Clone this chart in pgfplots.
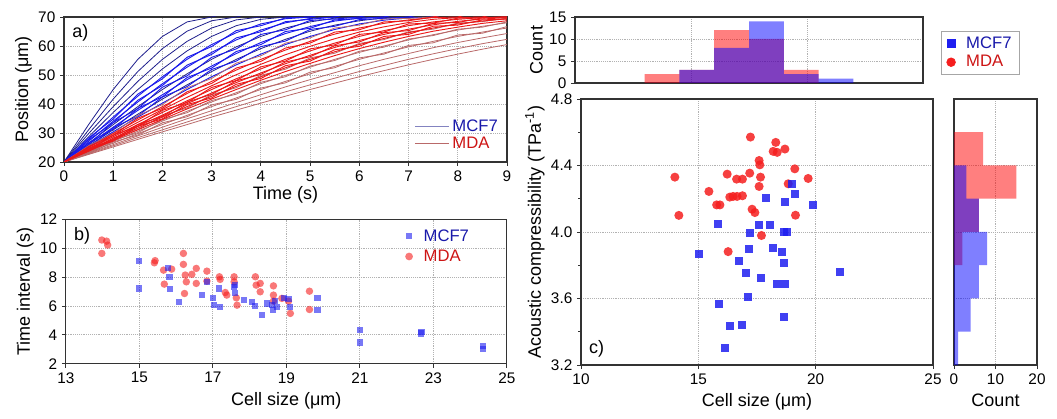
\documentclass[border=0pt]{standalone}
\usepackage{fontspec}
\setmainfont{Liberation Sans}
\usepackage{pgfplots}
\usepackage{pgfplotstable}
\pgfplotsset{compat=1.18}

\definecolor{mcfline}{RGB}{25,25,235}
\definecolor{mcfdark}{RGB}{30,30,140}
\definecolor{mdaline}{RGB}{235,25,25}
\definecolor{mdabrown}{RGB}{185,105,105}
\definecolor{mcftext}{RGB}{25,25,170}
\definecolor{mdatext}{RGB}{205,20,20}
\definecolor{mcfmark}{RGB}{30,30,240}
\definecolor{mdamark}{RGB}{245,30,30}

\pgfplotsset{
  panel/.style={
    scale only axis,
    axis line style={black!80, line width=0.9pt},
    tick align=outside, tick pos=left,
    major tick length=3pt,
    tick style={black!80, line width=0.7pt},
    grid=major,
    grid style={gray!60, densely dotted, line width=0.6pt},
    /pgf/number format/assume math mode=true,
    ticklabel style={font=\fontsize{11.5}{13}\selectfont},
    label style={font=\fontsize{13.5}{15}\selectfont},
  },
}

% position traces, MCF7 (t in s, position in um)
\pgfplotstableread{
t   b1   b2   b3   b4   b5   b6   b7   b8   b9   b10  b11  b12  b13  b14  b15
0   20   20   20   20   20   20   20   20   20   20   20   20   20   20   20
0.5 32.9 31.1 29.8 28.7 27.8 28.3 27.1 27.6 26.5 26.0 26.0 26.6 25.6 25.1 25.2
1   45.0 41.7 39.1 37.1 35.5 34.8 34.1 33.5 32.9 33.6 32.0 31.3 31.1 31.8 30.4
1.5 55.4 51.2 47.8 45.0 42.7 43.4 40.7 41.3 39.1 38.4 37.8 38.5 36.5 35.9 35.5
2   63.3 59.1 55.4 52.1 49.4 48.7 47.0 46.4 45.0 45.8 43.2 42.5 41.7 42.4 40.3
2.5 68.3 65.1 61.6 58.3 55.4 56.1 52.7 53.4 50.4 49.7 48.4 49.1 46.6 46.0 45.0
3   70   68.7 66.2 63.3 60.5 59.8 57.8 57.1 55.4 56.1 53.1 52.4 51.2 51.9 49.4
3.5 72   70   69.0 67.0 64.6 65.3 62.1 62.8 59.7 59.0 57.4 58.1 55.4 54.8 53.5
4   72   72   70   69.2 67.6 67.0 65.5 64.9 63.3 64.0 61.2 60.5 59.1 59.8 57.2
4.5 72   72   72   70   69.4 69.7 68.0 68.4 66.2 65.6 64.3 65.0 62.3 61.7 60.5
5   72   72   72   72   70   70   69.5 69.2 68.3 68.8 66.7 66.1 65.1 65.7 63.3
5.5 72   72   72   72   72   72   70   70   69.6 69.3 68.6 69.0 67.2 66.8 65.7
6   72   72   72   72   72   72   72   72   70   70   69.6 69.5 68.7 69.1 67.6
6.5 72   72   72   72   72   72   72   72   72   72   70   70   69.7 69.5 68.9
7   72   72   72   72   72   72   72   72   72   72   72   72   70   70   69.7
7.5 72   72   72   72   72   72   72   72   72   72   72   72   72   72   70
8   72   72   72   72   72   72   72   72   72   72   72   72   72   72   72
8.5 72   72   72   72   72   72   72   72   72   72   72   72   72   72   72
9   72   72   72   72   72   72   72   72   72   72   72   72   72   72   72
}\tblmcf

% position traces, MDA
\pgfplotstableread{
t   r1   r2   r3   r4   r5   r6   r7   r8   r9   r10  k1   k2   k3   k4   k5   k6   k7   k8   k9
0   20   20   20   20   20   20   20   20   20   20   20   20   20   20   20   20   20   20   20
0.5 24.9 24.6 24.4 24.0 24.1 24.5 23.9 24.3 23.7 25.3 25.6 23.6 23.2 23.3 22.9 23.0 22.8 22.6 23.5
1   29.8 29.2 28.7 29.3 28.2 27.7 27.8 27.2 27.5 29.2 29.9 27.1 27.5 26.5 26.9 26.0 25.6 25.2 28.2
1.5 34.5 33.7 32.9 32.3 32.3 32.9 31.7 32.3 31.1 35.1 36.0 30.6 30.1 29.8 29.3 29.0 28.4 27.8 31.2
2   39.1 38.1 37.1 37.8 36.2 35.7 35.5 34.9 34.7 38.5 39.8 34.1 34.6 32.9 33.5 32.0 31.1 30.4 36.0
2.5 43.6 42.3 41.1 40.5 40.1 40.7 39.1 39.8 38.3 44.2 45.6 37.5 37.0 36.1 35.6 34.9 33.8 32.9 38.6
3   47.8 46.3 45.0 45.7 43.8 43.3 42.7 42.1 41.7 47.1 48.8 40.7 41.2 39.1 39.7 37.7 36.5 35.5 43.2
3.5 51.7 50.1 48.7 48.1 47.4 48.0 46.1 46.8 45.0 52.4 54.1 43.9 43.4 42.1 41.6 40.5 39.1 37.9 45.6
4   55.4 53.7 52.1 52.8 50.7 50.2 49.4 48.8 48.2 54.7 56.6 47.0 47.5 45.0 45.5 43.2 41.7 40.3 49.9
4.5 58.6 57.0 55.4 54.8 53.9 54.5 52.5 53.2 51.2 59.3 61.0 49.9 49.4 47.8 47.3 45.9 44.2 42.7 52.0
5   61.6 59.9 58.3 59.0 56.8 56.3 55.4 54.8 54.0 61.0 62.8 52.7 53.1 50.4 51.0 48.4 46.6 45.0 55.9
5.5 64.1 62.5 61.0 60.4 59.5 60.1 58.0 58.7 56.7 64.8 66.2 55.4 55.0 53.0 52.5 50.8 48.9 47.2 57.5
6   66.2 64.8 63.3 64.0 61.9 61.4 60.5 59.9 59.1 65.6 67.2 57.8 58.2 55.4 55.9 53.2 51.2 49.4 60.9
6.5 67.8 66.6 65.3 64.8 64.0 64.6 62.6 63.3 61.3 68.3 69.3 60.0 59.6 57.6 57.2 55.4 53.3 51.5 62.2
7   69.0 68.1 67.0 67.6 65.8 65.3 64.6 64.0 63.3 68.7 69.5 62.1 62.4 59.7 60.2 57.4 55.4 53.5 64.9
7.5 69.8 69.2 68.3 67.9 67.3 67.8 66.2 66.8 65.1 70   70   63.9 63.6 61.6 61.1 59.4 57.3 55.4 65.8
8   70   69.8 69.2 69.6 68.5 68.1 67.6 67.2 66.5 72   72   65.5 65.8 63.3 63.8 61.2 59.1 57.2 67.9
8.5 72   70   69.8 69.7 69.3 69.7 68.6 69.0 67.8 72   72   66.8 66.5 64.8 64.4 62.8 60.8 58.9 68.4
9   72   72   70   70   69.8 70   69.4 69.3 68.7 72   72   68.0 68.3 66.2 66.7 64.3 62.3 60.5 69.6
}\tblmda

\begin{document}
\begin{tikzpicture}
\useasboundingbox (0,0) rectangle (792.75pt,313.5pt);

% ---------- a) ----------
\begin{axis}[panel,
  at={(48pt,192pt)}, anchor=south west,
  width=332.25pt, height=108.75pt,
  xmin=0, xmax=9, ymin=20, ymax=70,
  xtick={0,1,...,9}, ytick={20,30,...,70},
  xlabel={Time (s)}, ylabel={Position (μm)},
  xlabel style={yshift=3pt}, ylabel style={yshift=-2pt},
  legend style={at={(0.995,0.04)}, anchor=south east, draw=none, fill=none,
    font=\fontsize{12.5}{14}\selectfont, row sep=-1pt},
  legend cell align=left,
  legend image code/.code={\draw[#1] (0pt,0pt) -- (0.9cm,0pt);},
]
\pgfplotsinvokeforeach{b1,b2,b3,b4,b9,b13}{
  \addplot[mcfdark, line width=0.6pt, forget plot] table[x=t, y=#1] {\tblmcf};}
\pgfplotsinvokeforeach{b5,b6,b7,b8,b10,b11,b12,b14,b15}{
  \addplot[mcfline, line width=0.7pt, forget plot] table[x=t, y=#1] {\tblmcf};}
\pgfplotsinvokeforeach{k1,k2,k3,k4,k5,k6,k7,k8,k9}{
  \addplot[mdabrown, line width=0.6pt, forget plot] table[x=t, y=#1] {\tblmda};}
\pgfplotsinvokeforeach{r1,r2,r3,r4,r5,r6,r7,r8,r9,r10}{
  \addplot[mdaline, line width=0.7pt, forget plot] table[x=t, y=#1] {\tblmda};}
\addlegendimage{color=mcfdark!55, line width=0.6pt}
\addlegendentry{\textcolor{mcftext}{MCF7}}
\addlegendimage{color=mdabrown, line width=0.6pt}
\addlegendentry{\textcolor{mdatext}{MDA}}
\node[anchor=north west, font=\fontsize{13.5}{15}\selectfont] at (rel axis cs:0.008,0.98) {a)};
\end{axis}

% ---------- b) ----------
\begin{axis}[panel,
  at={(49.35pt,40.7pt)}, anchor=south west,
  width=330.75pt, height=108.15pt,
  xmin=13, xmax=25, ymin=2, ymax=12,
  xtick={13,15,...,25}, ytick={2,4,...,12},
  xlabel={Cell size (μm)}, ylabel={Time interval (s)},
  ylabel style={yshift=-2pt},
  legend style={at={(0.93,0.97)}, anchor=north east, draw=none, fill=none,
    font=\fontsize{12.5}{14}\selectfont, row sep=1pt},
  legend cell align=left,
]
\addplot[only marks, mark=*, mark size=2.8pt, color=mdamark, mark options={fill=mdamark, fill opacity=0.6, draw opacity=0}, forget plot] coordinates {
(13.98,10.58) (14.11,10.50) (14.14,10.23) (13.98,9.65) (15.41,9.00) (15.43,9.15)
(15.66,8.49) (15.68,7.52) (15.88,8.56) (16.20,9.65) (16.20,8.89) (16.25,8.15)
(16.28,7.68) (16.23,6.87) (16.43,8.20) (16.55,8.61) (16.55,7.57) (16.84,8.42)
(16.84,7.73) (17.18,8.03) (17.20,7.85) (17.34,6.94) (17.38,6.76) (17.58,8.03)
(17.58,7.68) (17.64,6.57) (17.66,6.06) (18.16,8.03) (18.18,7.45) (18.29,7.57)
(18.29,6.99) (18.65,7.40) (18.65,6.76) (18.65,6.34) (18.88,6.53) (19.06,6.34)
(19.11,5.49) (19.63,7.03) (19.63,5.76)
};
\addplot[only marks, mark=square*, mark size=2.3pt, color=mcfmark, mark options={fill=mcfmark, fill opacity=0.6, draw opacity=0}, forget plot] coordinates {
(15.00,9.12) (15.00,7.22) (15.78,8.61) (15.82,8.03) (15.84,7.17) (16.07,6.29)
(16.70,6.76) (16.84,7.68) (17.00,6.53) (17.04,6.06) (17.18,7.22) (17.20,5.94)
(17.58,7.33) (17.61,7.45) (17.61,6.88) (17.86,6.42) (18.06,6.29) (18.16,6.01)
(18.34,5.37) (18.47,6.18) (18.61,6.06) (18.64,5.72) (18.70,6.34) (18.75,5.95)
(18.93,6.57) (19.06,6.48) (19.09,5.94) (19.85,6.57) (19.85,5.72) (21.00,4.35)
(21.00,3.47) (22.66,4.10) (22.68,4.20) (24.35,3.05) (24.35,3.20)
};
\addlegendimage{only marks, mark=square*, mark size=2.3pt, color=mcfmark, mark options={fill=mcfmark, fill opacity=0.6, draw opacity=0}}
\addlegendentry{\hspace{6pt}\textcolor{mcftext}{MCF7}}
\addlegendimage{only marks, mark=*, mark size=2.9pt, color=mdamark, mark options={fill=mdamark, fill opacity=0.6, draw opacity=0}}
\addlegendentry{\hspace{6pt}\textcolor{mdatext}{MDA}}
\node[anchor=north west, font=\fontsize{13.5}{15}\selectfont] at (rel axis cs:0.008,0.98) {b)};
\end{axis}

% ---------- c) main ----------
\begin{axis}[panel,
  at={(435.75pt,39.75pt)}, anchor=south west,
  width=264pt, height=199.5pt,
  xmin=10, xmax=25, ymin=3.2, ymax=4.8,
  xtick={10,15,20,25}, ytick={3.2,3.6,4.0,4.4,4.8},
  minor ytick={3.4,3.8,4.2,4.6}, minor tick length=2pt,
  yticklabel style={/pgf/number format/.cd, fixed, fixed zerofill, precision=1},
  xlabel={Cell size (μm)}, ylabel={Acoustic compressibility (TPa\textsuperscript{-1})},
  ylabel style={yshift=-2pt},
  legend style={at={(1.023,1.256)}, anchor=north west, draw=black!35, fill=white,
    font=\fontsize{12.5}{14}\selectfont, row sep=0pt, inner xsep=4pt, inner ysep=2pt},
  legend cell align=left,
]
\addplot[only marks, mark=*, mark size=3.4pt, color=mdamark, mark options={fill=mdamark, fill opacity=0.85, draw opacity=0}, forget plot] coordinates {
(14.00,4.33) (14.17,4.10) (15.45,4.244) (15.78,4.163) (15.92,4.163) (16.23,4.348)
(16.27,3.882) (16.34,4.21) (16.48,4.214) (16.63,4.318) (16.65,4.214) (16.88,4.318)
(16.88,4.218) (17.22,4.571) (17.19,4.354) (17.29,4.137) (17.41,4.117) (17.59,4.43)
(17.62,4.404) (17.65,4.33) (17.59,4.274) (17.69,3.979) (18.19,4.485) (18.30,4.539)
(18.36,4.479) (18.69,4.499) (19.11,4.38) (19.14,4.101) (19.68,4.322) (18.83,4.29)
};
\addplot[only marks, mark=square*, mark size=3pt, color=mcfmark, mark options={fill=mcfmark, fill opacity=0.85, draw opacity=0}, forget plot] coordinates {
(15.02,3.87) (15.85,4.051) (15.87,3.567) (16.12,3.302) (16.34,3.436) (16.73,3.824)
(16.84,3.44) (17.02,3.752) (17.18,3.896) (17.19,3.993) (17.10,3.607) (17.59,4.045)
(17.65,3.724) (17.88,4.202) (18.05,4.041) (18.19,3.904) (18.36,3.686) (18.57,3.88)
(18.68,4.178) (18.66,4.003) (18.76,3.997) (18.66,3.812) (18.70,3.686) (18.66,3.487)
(18.97,4.288) (19.11,4.23) (19.89,4.161) (21.05,3.762)
};
\addlegendimage{only marks, mark=square*, mark size=2.8pt, color=mcfmark, mark options={fill=mcfmark}}
\addlegendentry{\hspace{6pt}\textcolor{mcftext}{MCF7}}
\addlegendimage{only marks, mark=*, mark size=3.3pt, color=mdamark, mark options={fill=mdamark}}
\addlegendentry{\hspace{6pt}\textcolor{mdatext}{MDA}}
\node[anchor=south west, font=\fontsize{13.5}{15}\selectfont] at (rel axis cs:0.01,0.01) {c)};
\end{axis}

% ---------- c) top histogram ----------
\begin{axis}[panel,
  at={(431.25pt,251.25pt)}, anchor=south west,
  width=261pt, height=49.5pt,
  xmin=10, xmax=25, ymin=0, ymax=15,
  xtick={15,20}, xticklabels={}, xtick style={draw=none},
  ytick={0,5,10,15},
  ylabel={Count}, ylabel style={yshift=-2pt},
]
\addplot[ybar interval, draw=none, fill=red, fill opacity=0.5] coordinates {
(13,2) (14.5,3) (16,12) (17.5,10) (19,3) (20.5,0) (22,0)};
\addplot[ybar interval, draw=none, fill=blue, fill opacity=0.5] coordinates {
(13,0) (14.5,3) (16,8) (17.5,14) (19,2) (20.5,1) (22,0)};
\end{axis}

% ---------- c) right histogram ----------
\begin{axis}[panel,
  at={(715.5pt,39.75pt)}, anchor=south west,
  width=62.25pt, height=199.5pt,
  xmin=0, xmax=20, ymin=3.2, ymax=4.8,
  xtick={0,10,20}, ytick={3.6,4.0,4.4}, yticklabels={}, ytick style={draw=none},
  xlabel={Count},
]
\addplot[xbar interval, draw=none, fill=red, fill opacity=0.5] coordinates {
(0,3.2) (0,3.4) (0,3.6) (2,3.8) (6,4.0) (15,4.2) (7,4.4) (0,4.6)};
\addplot[xbar interval, draw=none, fill=blue, fill opacity=0.5] coordinates {
(1,3.2) (4,3.4) (6,3.6) (8,3.8) (6,4.0) (3,4.2) (0,4.4) (0,4.6)};
\end{axis}
\end{tikzpicture}
\end{document}
